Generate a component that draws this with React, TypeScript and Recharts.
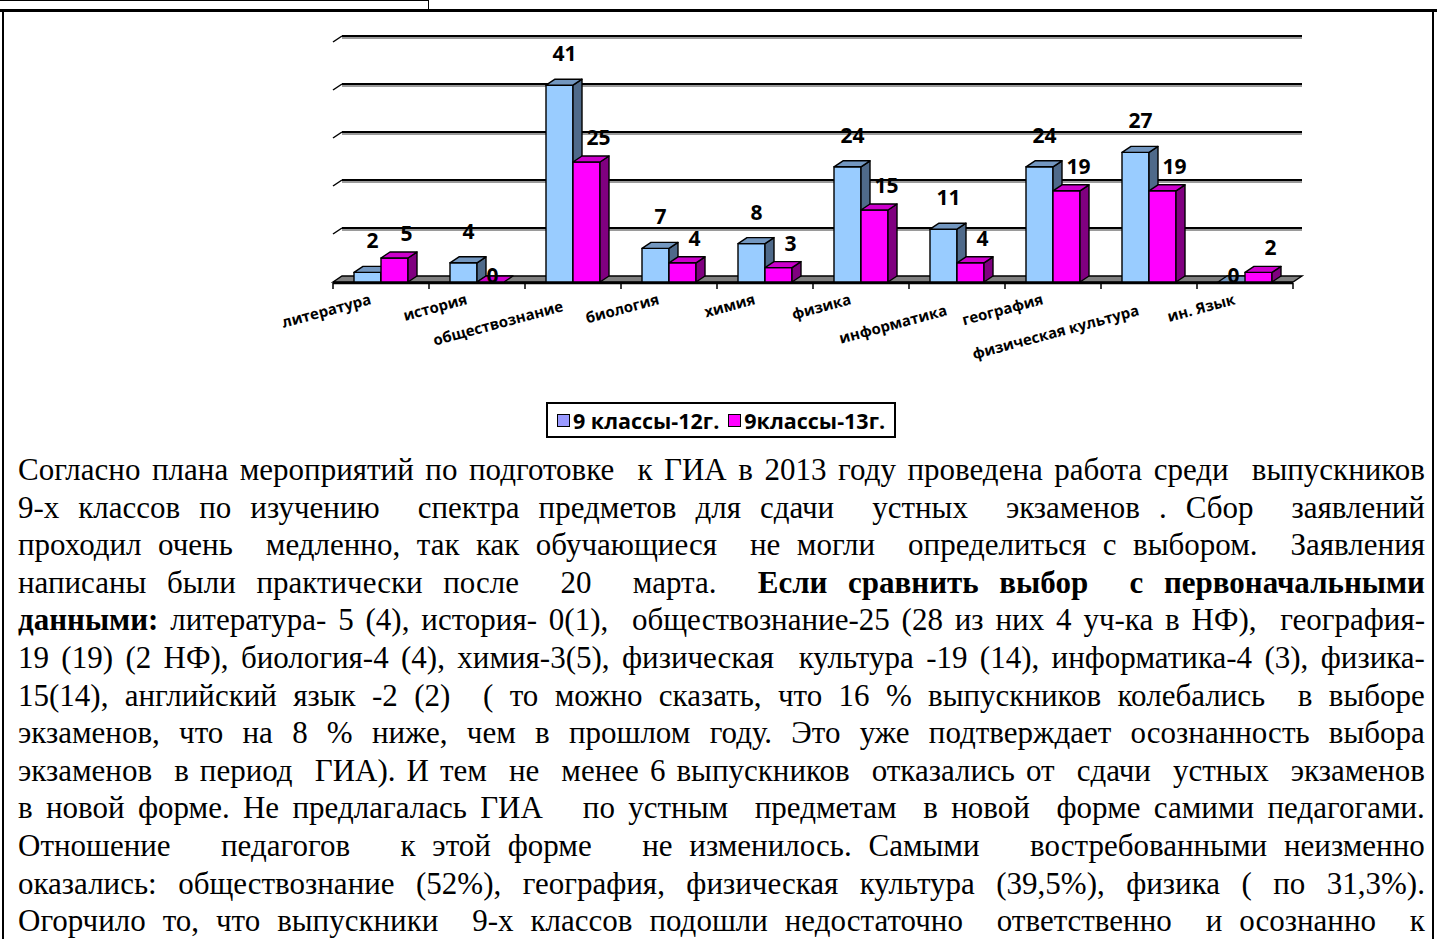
import React from "react";
import { Bar, BarChart, CartesianGrid, LabelList, XAxis, YAxis } from "recharts";

// chart values
const categories = [
  "литература",
  "история",
  "обществознание",
  "биология",
  "химия",
  "физика",
  "информатика",
  "география",
  "физическая культура",
  "ин. Язык",
];
const classes12 = [2, 4, 41, 7, 8, 24, 11, 24, 27, 0];
const classes13 = [5, 0, 25, 4, 3, 15, 4, 19, 19, 2];
const seriesNames = ["9 классы-12г.", "9классы-13г."];
const yTicks = [0, 10, 20, 30, 40, 50];
// labels that Excel pushed down to a second row
const lowerLabels = [2, 6, 8];

const data = categories.map((name, i) => ({
  name,
  c12: classes12[i],
  c13: classes13[i],
}));

// paragraph under the chart, one entry per printed line; "**" toggles bold
const lines = [
  "Согласно плана мероприятий по подготовке  к ГИА в 2013 году проведена работа среди  выпускников",
  "9-х классов по изучению  спектра предметов для сдачи  устных  экзаменов . Сбор  заявлений",
  "проходил очень  медленно, так как обучающиеся  не могли  определиться с выбором.  Заявления",
  "написаны были практически после  20  марта.  **Если сравнить выбор  с первоначальными",
  "**данными:** литература- 5 (4), история- 0(1),  обществознание-25 (28 из них 4 уч-ка в НФ),  география-",
  "19 (19) (2 НФ), биология-4 (4), химия-3(5), физическая  культура -19 (14), информатика-4 (3), физика-",
  "15(14), английский язык -2 (2)  ( то можно сказать, что 16 % выпускников колебались  в выборе",
  "экзаменов, что на 8 % ниже, чем в прошлом году. Это уже подтверждает осознанность выбора",
  "экзаменов  в период  ГИА). И тем  не  менее 6 выпускников  отказались от  сдачи  устных  экзаменов",
  "в новой форме. Не предлагалась ГИА   по устным  предметам  в новой  форме самими педагогами.",
  "Отношение   педагогов   к этой форме   не изменилось. Самыми   востребованными неизменно",
  "оказались: обществознание (52%), география, физическая культура (39,5%), физика ( по 31,3%).",
  "Огорчило то, что выпускники  9-х классов подошли недостаточно  ответственно  и осознанно  к",
];

const DX = 9;
const DY = 6;
const CHART_W = 1437;
const CHART_H = 380;
const MARGIN = { top: 42, right: 144, bottom: 48, left: 333 };
const XAXIS_H = 50;
const PLOT_BOTTOM = CHART_H - MARGIN.bottom - XAXIS_H;

const blue = { front: "#99CCFF", top: "#7397C0", side: "#4F6A8A", legend: "#9999FF" };
const pink = { front: "#FF00FF", top: "#CC00CC", side: "#800080", legend: "#FF00FF" };

const chartFont = "'Open Sans', 'Noto Sans', sans-serif";

function Box3D(props: any) {
  const { x, y, width, height, colors } = props;
  if (x == null || y == null) return null;
  const w = width;
  const h = Math.max(0, height);
  return (
    <g stroke="#000" strokeWidth={1.4} strokeLinejoin="round">
      {h > 0 && <rect x={x} y={y} width={w} height={h} fill={colors.front} />}
      {h > 0 && (
        <polygon
          points={`${x + w},${y} ${x + w + DX},${y - DY} ${x + w + DX},${y + h - DY} ${x + w},${y + h}`}
          fill={colors.side}
        />
      )}
      <polygon
        points={`${x},${y} ${x + DX},${y - DY} ${x + w + DX},${y - DY} ${x + w},${y}`}
        fill={colors.top}
      />
    </g>
  );
}

function valueLabel(shiftX: number, rise: number) {
  return (props: any) => {
    const { x, y, width, value } = props;
    const zero = Number(value) === 0;
    const cx = x + width / 2 + (zero ? 2 : shiftX);
    const by = zero ? y + 1 : y - rise;
    return (
      <text
        x={cx}
        y={by}
        textAnchor="middle"
        fontFamily={chartFont}
        fontWeight={700}
        fontSize={21}
        fill="#000"
      >
        {value}
      </text>
    );
  };
}

function CategoryTick(props: any) {
  const { x, y, payload, index } = props;
  const lower = lowerLabels.includes(index);
  const dy = lower ? (index === 2 ? 29 : 33) : 22;
  return (
    <g transform={`translate(${x - 9},${y + dy}) rotate(-15)`}>
      <text
        textAnchor="end"
        fontFamily={chartFont}
        fontWeight={700}
        fontSize={15}
        fill="#000"
      >
        {payload.value}
      </text>
    </g>
  );
}

function GridLine(props: any) {
  const { x1, x2, y1 } = props;
  if (Math.abs(y1 - PLOT_BOTTOM) < 1) {
    const n = categories.length;
    const band = (x2 - x1) / n;
    const marks = Array.from({ length: n + 1 }, (_, i) => x1 + band * i);
    return (
      <g>
        <polygon
          points={`${x1},${y1} ${x1 + DX},${y1 - DY} ${x2 + DX},${y1 - DY} ${x2},${y1}`}
          fill="#808080"
          stroke="#000"
          strokeWidth={1.4}
        />
        <line x1={x1} y1={y1 + 1} x2={x2} y2={y1 + 1} stroke="#000" strokeWidth={2.5} />
        {marks.map((mx, i) => (
          <line key={i} x1={mx} y1={y1 + 1} x2={mx} y2={y1 + 7} stroke="#000" strokeWidth={1.5} />
        ))}
      </g>
    );
  }
  return (
    <g>
      <line x1={x1 + DX} y1={y1 - DY + 2} x2={x2 + DX} y2={y1 - DY + 2} stroke="#9a9a9a" strokeWidth={2} />
      <line x1={x1 + DX} y1={y1 - DY} x2={x2 + DX} y2={y1 - DY} stroke="#000" strokeWidth={2.2} />
      <line x1={x1} y1={y1} x2={x1 + DX} y2={y1 - DY} stroke="#000" strokeWidth={1.5} />
    </g>
  );
}

function TextLine({ line }: { line: string }) {
  // split into bold / normal runs, then into words so every gap stretches
  const runs = line.split("**");
  const words: { t: string; b: boolean }[] = [];
  runs.forEach((run, ri) => {
    const bold = ri % 2 === 1;
    const parts = run.split(" ");
    parts.forEach((t, wi) => {
      if (t === "" && (wi === 0 || wi === parts.length - 1)) return;
      words.push({ t, b: bold });
    });
  });
  return (
    <div
      style={{
        display: "flex",
        justifyContent: "space-between",
        columnGap: 3,
        height: 37.6,
        lineHeight: "37.6px",
        whiteSpace: "pre",
      }}
    >
      {words.map((w, i) => (
        <span key={i} style={{ fontWeight: w.b ? 700 : 400 }}>
          {w.t}
        </span>
      ))}
    </div>
  );
}

export default function App() {
  return (
    <div
      style={{
        position: "absolute",
        left: 0,
        top: 0,
        width: 1437,
        height: 939,
        background: "#fff",
        overflow: "hidden",
      }}
    >
      {/* page / table borders */}
      <div style={{ position: "absolute", left: 0, top: 0, width: 429, height: 1, background: "#000" }} />
      <div style={{ position: "absolute", left: 428, top: 0, width: 1, height: 10, background: "#000" }} />
      <div style={{ position: "absolute", left: 0, top: 9, width: 1437, height: 3, background: "#000" }} />
      <div style={{ position: "absolute", left: 2, top: 9, width: 2, height: 930, background: "#000" }} />
      <div style={{ position: "absolute", left: 1432, top: 9, width: 2, height: 930, background: "#000" }} />

      <div style={{ position: "absolute", left: 0, top: 0 }}>
        <BarChart
          width={CHART_W}
          height={CHART_H}
          data={data}
          margin={MARGIN}
          barSize={27}
          barGap={0}
        >
          <CartesianGrid horizontal={GridLine} vertical={false} />
          <XAxis
            dataKey="name"
            height={XAXIS_H}
            axisLine={false}
            tickLine={false}
            tickSize={0}
            tickMargin={0}
            interval={0}
            tick={CategoryTick}
          />
          <YAxis hide width={0} domain={[0, 50]} ticks={yTicks} />
          <Bar
            dataKey="c12"
            name={seriesNames[0]}
            fill={blue.front}
            isAnimationActive={false}
            shape={(p: any) => <Box3D {...p} colors={blue} />}
          >
            <LabelList dataKey="c12" content={valueLabel(5, 24)} />
          </Bar>
          <Bar
            dataKey="c13"
            name={seriesNames[1]}
            fill={pink.front}
            isAnimationActive={false}
            shape={(p: any) => <Box3D {...p} colors={pink} />}
          >
            <LabelList dataKey="c13" content={valueLabel(12, 17)} />
          </Bar>
        </BarChart>
      </div>

      {/* legend */}
      <div
        style={{
          position: "absolute",
          left: 546,
          top: 402,
          width: 346,
          height: 32,
          border: "2px solid #000",
          display: "flex",
          alignItems: "center",
          justifyContent: "center",
          fontFamily: chartFont,
          fontWeight: 700,
          fontSize: 21.5,
          gap: 9,
        }}
      >
        {[blue, pink].map((c, i) => (
          <div key={i} style={{ display: "flex", alignItems: "center", gap: 3 }}>
            <span
              style={{
                width: 11,
                height: 11,
                background: c.legend,
                border: "1.5px solid #000",
                display: "inline-block",
              }}
            />
            <span>{seriesNames[i]}</span>
          </div>
        ))}
      </div>

      {/* paragraph */}
      <div
        style={{
          position: "absolute",
          left: 18,
          top: 451,
          width: 1407,
          fontFamily: "'Liberation Serif', 'Times New Roman', serif",
          fontSize: 31,
          color: "#000",
        }}
      >
        {lines.map((l, i) => (
          <TextLine key={i} line={l} />
        ))}
      </div>
    </div>
  );
}
